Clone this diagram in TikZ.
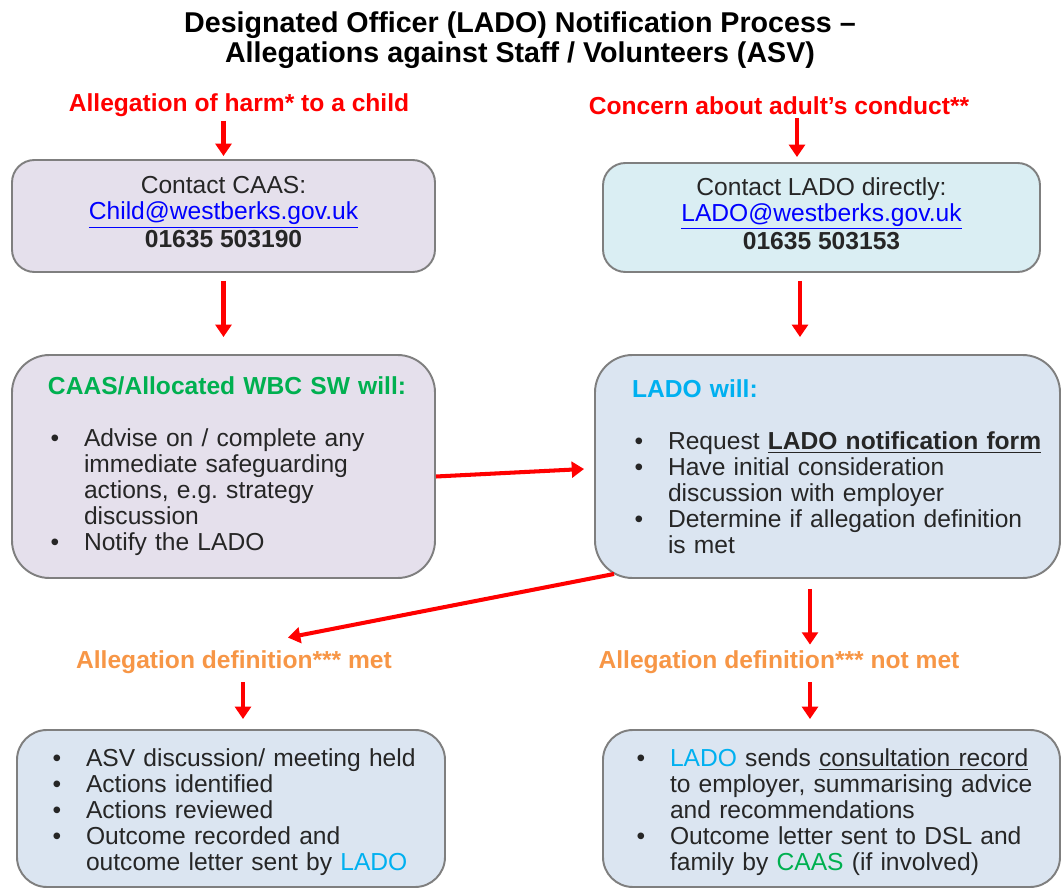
\documentclass[tikz,border=0pt]{standalone}
\usepackage{fontspec}
\setmainfont{Liberation Sans}
\usepackage{xcolor}
\definecolor{caas-lavender}{HTML}{E5E0EC}
\definecolor{contact-aqua}{HTML}{DAEEF3}
\definecolor{lado-blue}{HTML}{DBE5F1}
\definecolor{frame-grey}{HTML}{7F7F7F}
\definecolor{arrow-red}{HTML}{FF0000}
\definecolor{caas-green}{HTML}{00B050}
\definecolor{lado-cyan}{HTML}{00B0F0}
\definecolor{met-orange}{HTML}{F79646}
\definecolor{link-blue}{HTML}{0000FF}
\definecolor{body-grey}{HTML}{262626}
\usetikzlibrary{arrows.meta}
\frenchspacing
\newcommand{\bul}{\par\hangindent=20.5pt\hangafter=1\noindent\makebox[20.5pt][l]{\hspace{1.5pt}\textbullet}}
\tikzset{
    title/.style={font=\bfseries\fontsize{16.3}{17.2}\selectfont, align=center},
    redlabel/.style={text=arrow-red, font=\bfseries\fontsize{14}{16}\selectfont, inner sep=2pt},
    orangelabel/.style={text=met-orange, font=\bfseries\fontsize{14}{16}\selectfont, inner sep=2pt},
    box/.style={draw=frame-grey, line width=1.1pt, rounded corners=0.5cm, text=body-grey, font=\fontsize{14}{14.8}\selectfont, inner ysep=0pt},
    listbox/.style={box, align=left, inner xsep=0.3cm},
    flow/.style={draw=arrow-red, line width=2.3pt, -{Triangle[width=9pt,length=7pt]}},
    gap/.style={shorten <=0.16cm, shorten >=0.34cm}
}
\begin{document}
\begin{tikzpicture}
    \path[fill=white, use as bounding box] (0,0) rectangle (21.26,-17.76);

    \node[title] (title) at (10.40,-0.80) {Designated Officer (LADO) Notification Process --\\Allegations against Staff / Volunteers (ASV)};

    % where a referral starts
    \node[redlabel] (harm) at (4.78,-2.11) {Allegation of harm* to a child};
    \node[redlabel] (concern) at (15.58,-2.11) {Concern about adult’s conduct**};

    \node[box, fill=caas-lavender, align=center, minimum width=8.46cm, minimum height=2.24cm, rounded corners=0.45cm] (caas) at (4.47,-4.32)
        {Contact CAAS:\\\textcolor{link-blue}{\underline{Child@westberks.gov.uk}}\\\textbf{01635 503190}\strut};
    \node[box, fill=contact-aqua, align=center, minimum width=8.74cm, minimum height=2.18cm, rounded corners=0.45cm] (ladocontact) at (16.43,-4.35)
        {Contact LADO directly:\\\textcolor{link-blue}{\underline{LADO@westberks.gov.uk}}\\\textbf{01635 503153}\strut};

    \node[listbox, fill=caas-lavender, text width=7.86cm, minimum height=4.46cm, rounded corners=0.75cm] (caaswill) at (4.47,-9.33)
        {\leftskip=0.42cm
        \textcolor{caas-green}{\textbf{CAAS/Allocated WBC SW will:}}\par\vspace{14.8pt}
        \bul Advise on / complete any\newline immediate safeguarding\newline actions, e.g. strategy\newline discussion
        \bul Notify the LADO\par};
    \node[listbox, fill=lado-blue, text width=8.70cm, minimum height=4.46cm, rounded corners=0.75cm] (ladowill) at (16.55,-9.33)
        {\leftskip=0.44cm
        \textcolor{lado-cyan}{\textbf{LADO will:}}\par\vspace{14.8pt}
        \bul Request \textbf{\underline{LADO notification form}}
        \bul Have initial consideration\newline discussion with employer
        \bul Determine if allegation definition\newline is met\par};

    % outcome of the consideration
    \node[orangelabel] (met) at (4.68,-13.24) {Allegation definition*** met};
    \node[orangelabel] (notmet) at (15.58,-13.24) {Allegation definition*** not met};

    \node[listbox, fill=lado-blue, text width=7.96cm, minimum height=3.14cm, rounded corners=0.6cm] (asv) at (4.62,-16.17)
        {\leftskip=0.36cm
        \bul ASV discussion/ meeting held
        \bul Actions identified
        \bul Actions reviewed
        \bul Outcome recorded and\newline outcome letter sent by \textcolor{lado-cyan}{LADO}\par};
    \node[listbox, fill=lado-blue, text width=8.54cm, minimum height=3.14cm, rounded corners=0.6cm] (consult) at (16.63,-16.17)
        {\leftskip=0.32cm
        \bul \textcolor{lado-cyan}{LADO} sends \underline{consultation record}\newline to employer, summarising advice\newline and recommendations
        \bul Outcome letter sent to DSL and\newline family by \textcolor{caas-green}{CAAS} (if involved)\par};

    \draw[flow, shorten >=0.06cm] (harm.south -| caas.north) -- (caas.north);
    \draw[flow, shorten >=0.1cm] ([xshift=0.36cm]concern.south) -- ([xshift=0.36cm]concern.south |- ladocontact.north);
    \draw[flow, gap] (caas.south) -- (caaswill.north);
    \draw[flow, gap] ([xshift=-0.43cm]ladocontact.south) -- ([xshift=-0.43cm]ladocontact.south |- ladowill.north);
    \draw[flow, shorten >=0.2cm] ([yshift=-0.2cm]caaswill.east) -- ([yshift=-0.04cm]ladowill.west);
    \draw[flow] ([shift={(0.4,0.1)}]ladowill.south west) -- ([shift={(1.08,0.18)}]met.north);
    \draw[flow, shorten <=0.2cm, shorten >=0.04cm] ([xshift=-0.35cm]ladowill.south) -- ([xshift=-0.35cm]ladowill.south |- notmet.north);
    \draw[flow, shorten <=0.1cm, shorten >=0.2cm] ([xshift=0.18cm]met.south) -- ([xshift=0.18cm]met.south |- asv.north);
    \draw[flow, shorten <=0.1cm, shorten >=0.2cm] ([xshift=0.62cm]notmet.south) -- ([xshift=0.62cm]notmet.south |- consult.north);
\end{tikzpicture}
\end{document}
